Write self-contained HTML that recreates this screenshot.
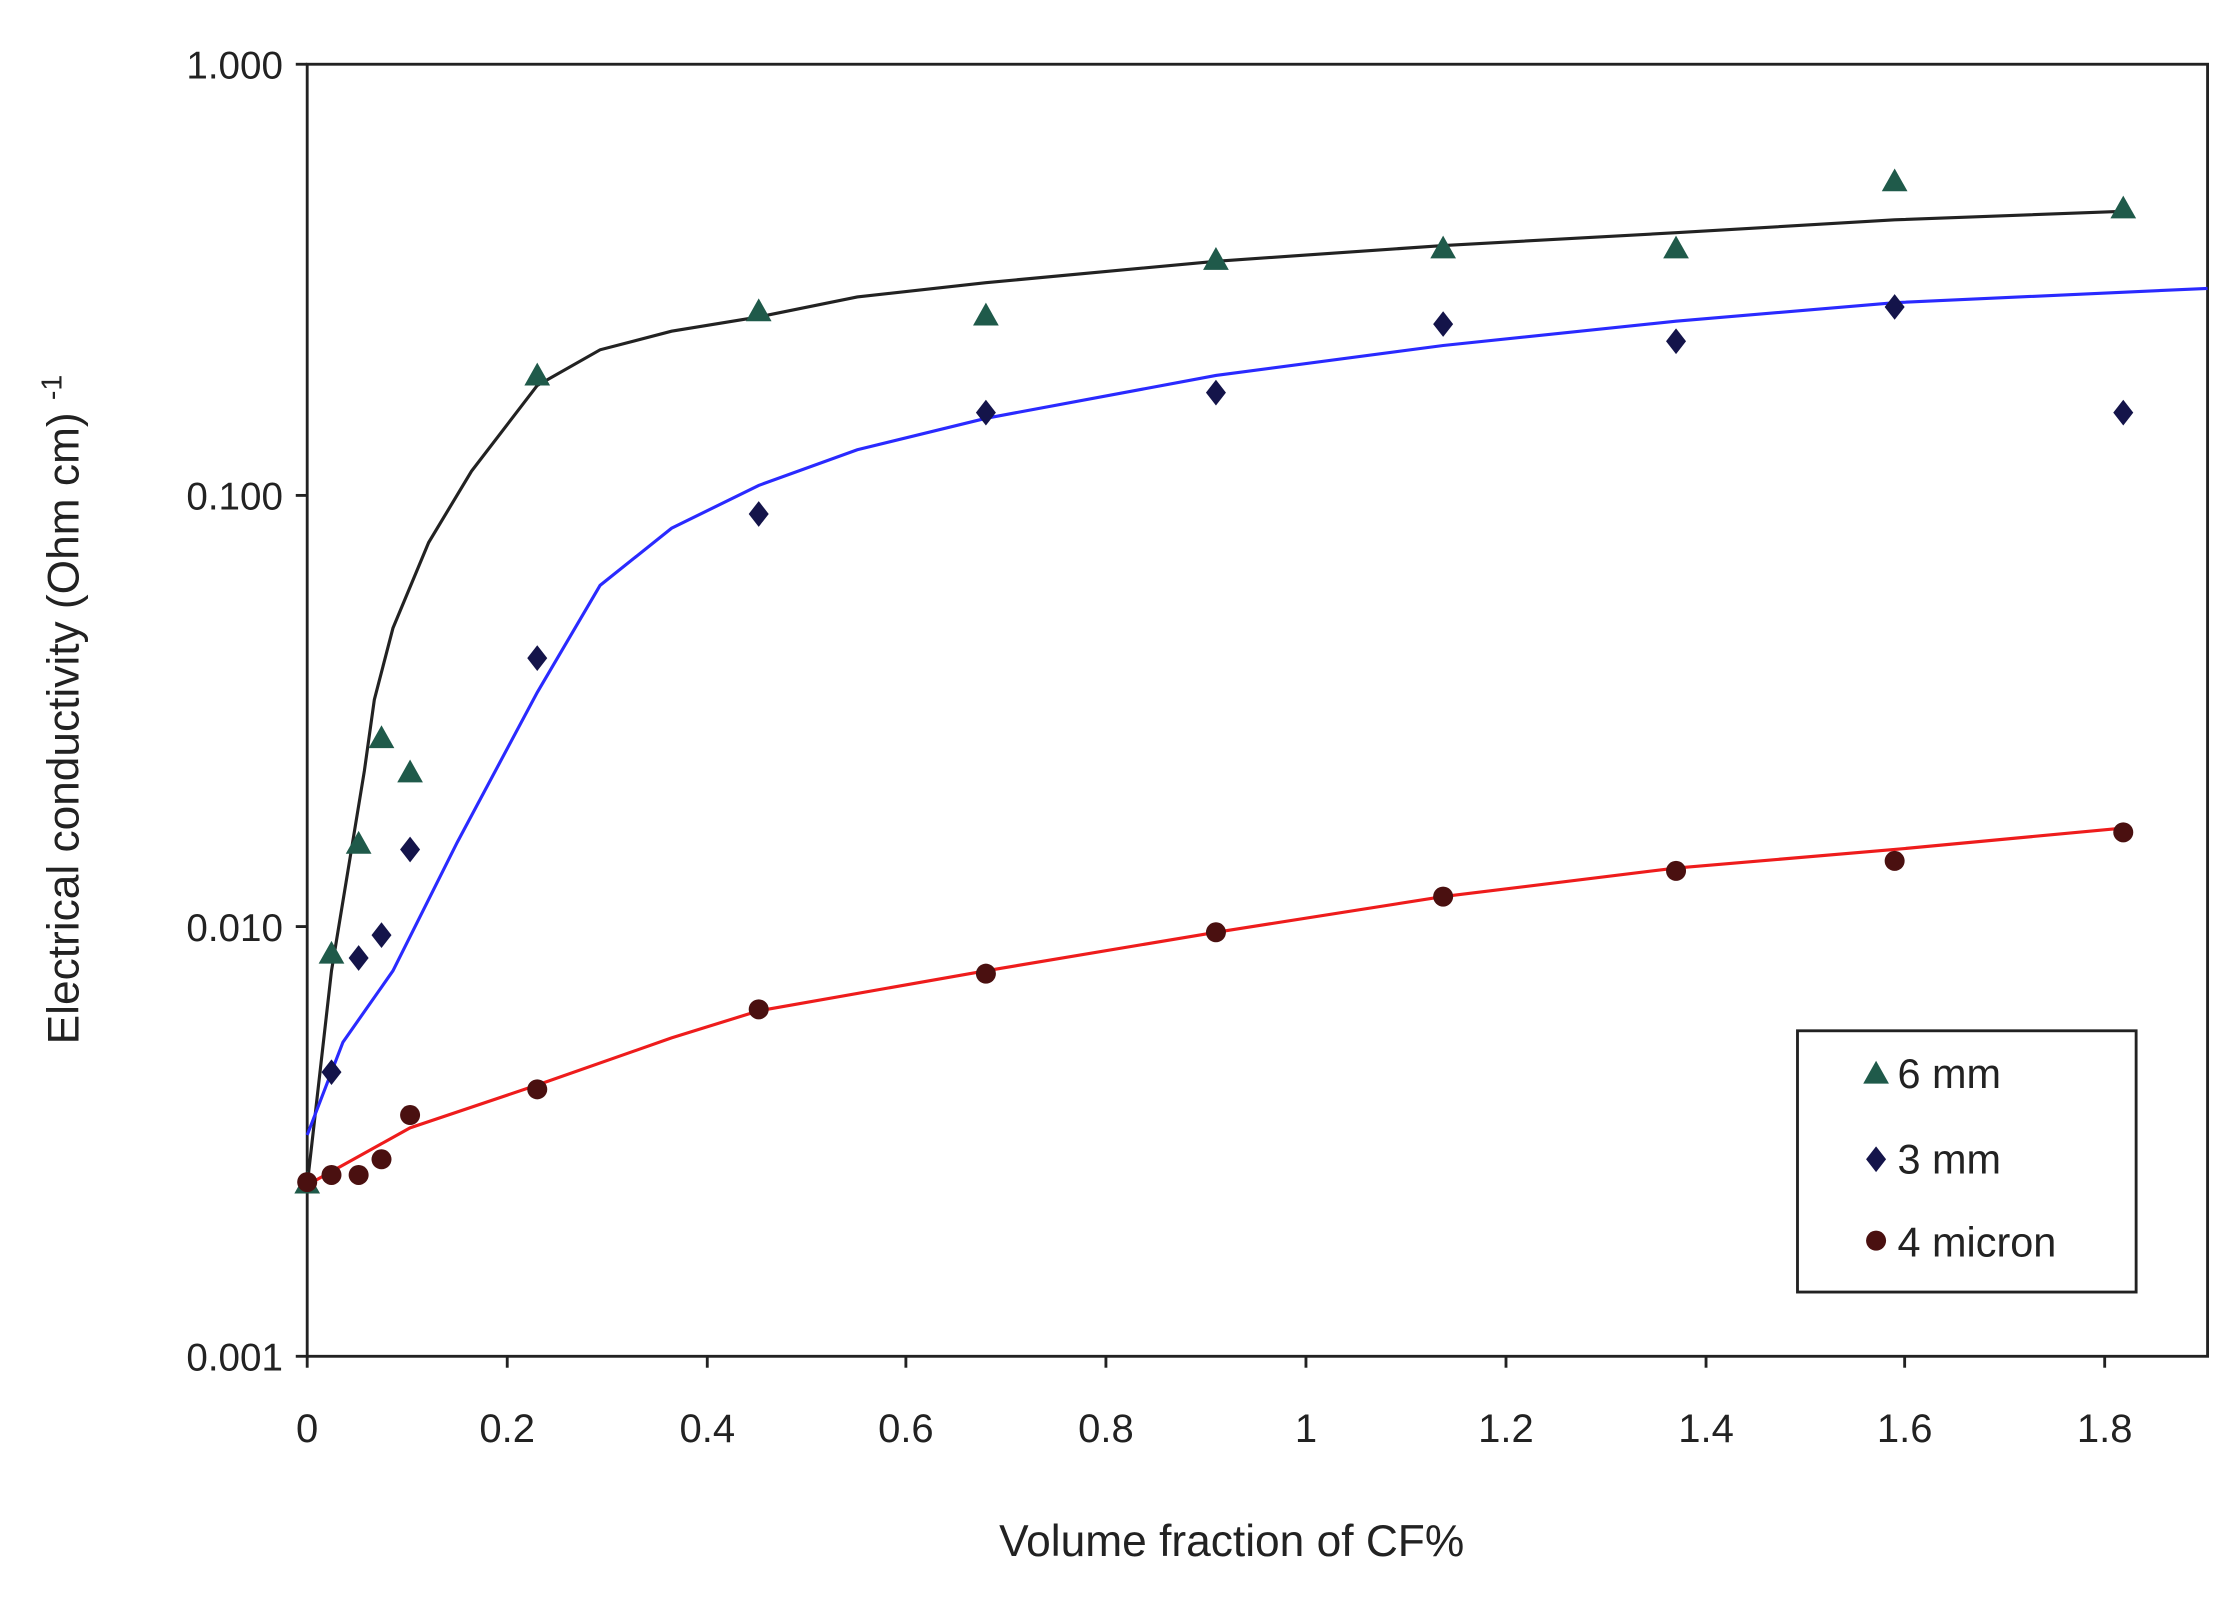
<!DOCTYPE html>
<html><head><style>html,body{margin:0;padding:0;background:#fff}svg{display:block}</style></head>
<body>
<svg width="2229" height="1599" viewBox="0 0 1560 1120" preserveAspectRatio="none" xmlns="http://www.w3.org/2000/svg" font-family="Liberation Sans, sans-serif">
<rect width="1560" height="1120" fill="#fff"/>
<rect x="215" y="45" width="1330" height="905" fill="none" stroke="#222" stroke-width="2"/>
<g stroke="#222" stroke-width="2">
<line x1="207" y1="45" x2="215" y2="45"/><line x1="207" y1="347" x2="215" y2="347"/><line x1="207" y1="649" x2="215" y2="649"/><line x1="207" y1="950" x2="215" y2="950"/>
<line x1="215" y1="950" x2="215" y2="958"/><line x1="355" y1="950" x2="355" y2="958"/><line x1="495" y1="950" x2="495" y2="958"/><line x1="634" y1="950" x2="634" y2="958"/><line x1="774" y1="950" x2="774" y2="958"/><line x1="914" y1="950" x2="914" y2="958"/><line x1="1054" y1="950" x2="1054" y2="958"/><line x1="1194" y1="950" x2="1194" y2="958"/><line x1="1333" y1="950" x2="1333" y2="958"/><line x1="1473" y1="950" x2="1473" y2="958"/>
</g>
<g font-size="27" fill="#222" text-anchor="end">
<text x="198" y="55">1.000</text><text x="198" y="357">0.100</text><text x="198" y="659">0.010</text><text x="198" y="960">0.001</text>
</g>
<g font-size="28" fill="#222" text-anchor="middle">
<text x="215" y="1010">0</text><text x="355" y="1010">0.2</text><text x="495" y="1010">0.4</text><text x="634" y="1010">0.6</text><text x="774" y="1010">0.8</text><text x="914" y="1010">1</text><text x="1054" y="1010">1.2</text><text x="1194" y="1010">1.4</text><text x="1333" y="1010">1.6</text><text x="1473" y="1010">1.8</text>
<text x="862" y="1090" font-size="31">Volume fraction of CF%</text>
<text transform="translate(55,497) rotate(-90)" font-size="31">Electrical conductivity (Ohm cm) <tspan dy="-12" font-size="20">-1</tspan></text>
</g>
<polyline fill="none" stroke="#222" stroke-width="2.2" points="215,830 232,680 255,540 262,490 275,440 300,380 330,330 376,270 420,245 470,232 531,222 600,208 690,198 851,183 1010,172 1173,163 1326,154 1486,148"/>
<polyline fill="none" stroke="#2a2aff" stroke-width="2.2" points="215,795 240,730 275,680 320,590 376,485 420,410 470,370 531,340 600,315 690,293 851,263 1010,242 1173,225 1326,212 1545,202"/>
<polyline fill="none" stroke="#ee1c1c" stroke-width="2.2" points="215,830 287,790 376,760 470,727 531,708 690,680 851,653 1010,628 1173,608 1326,595 1486,580"/>
<g fill="#1f5a4a">
<path d="M215,820l9,16h-18z"/><path d="M232,659l9,16h-18z"/><path d="M251,582l9,16h-18z"/><path d="M267,508l9,16h-18z"/><path d="M287,532l9,16h-18z"/><path d="M376,254l9,16h-18z"/><path d="M531,209l9,16h-18z"/><path d="M690,212l9,16h-18z"/><path d="M851,173l9,16h-18z"/><path d="M1010,165l9,16h-18z"/><path d="M1173,165l9,16h-18z"/><path d="M1326,118l9,16h-18z"/><path d="M1486,137l9,16h-18z"/>
</g>
<g fill="#14144a">
<path d="M232,742l7,9-7,9-7-9z"/><path d="M251,662l7,9-7,9-7-9z"/><path d="M267,646l7,9-7,9-7-9z"/><path d="M287,586l7,9-7,9-7-9z"/><path d="M376,452l7,9-7,9-7-9z"/><path d="M531,351l7,9-7,9-7-9z"/><path d="M690,280l7,9-7,9-7-9z"/><path d="M851,266l7,9-7,9-7-9z"/><path d="M1010,218l7,9-7,9-7-9z"/><path d="M1173,230l7,9-7,9-7-9z"/><path d="M1326,206l7,9-7,9-7-9z"/><path d="M1486,280l7,9-7,9-7-9z"/>
</g>
<g fill="#4a1010">
<circle cx="215" cy="828" r="7"/><circle cx="232" cy="823" r="7"/><circle cx="251" cy="823" r="7"/><circle cx="267" cy="812" r="7"/><circle cx="287" cy="781" r="7"/><circle cx="376" cy="763" r="7"/><circle cx="531" cy="707" r="7"/><circle cx="690" cy="682" r="7"/><circle cx="851" cy="653" r="7"/><circle cx="1010" cy="628" r="7"/><circle cx="1173" cy="610" r="7"/><circle cx="1326" cy="603" r="7"/><circle cx="1486" cy="583" r="7"/>
</g>
<rect x="1258" y="722" width="237" height="183" fill="#fff" stroke="#222" stroke-width="2"/>
<path d="M1313,743l9,16h-18z" fill="#1f5a4a"/>
<path d="M1313,803l7,9-7,9-7-9z" fill="#14144a"/>
<circle cx="1313" cy="869" r="7" fill="#4a1010"/>
<g font-size="29" fill="#222">
<text x="1328" y="762">6 mm</text><text x="1328" y="822">3 mm</text><text x="1328" y="880">4 micron</text>
</g>
</svg>
</body></html>
